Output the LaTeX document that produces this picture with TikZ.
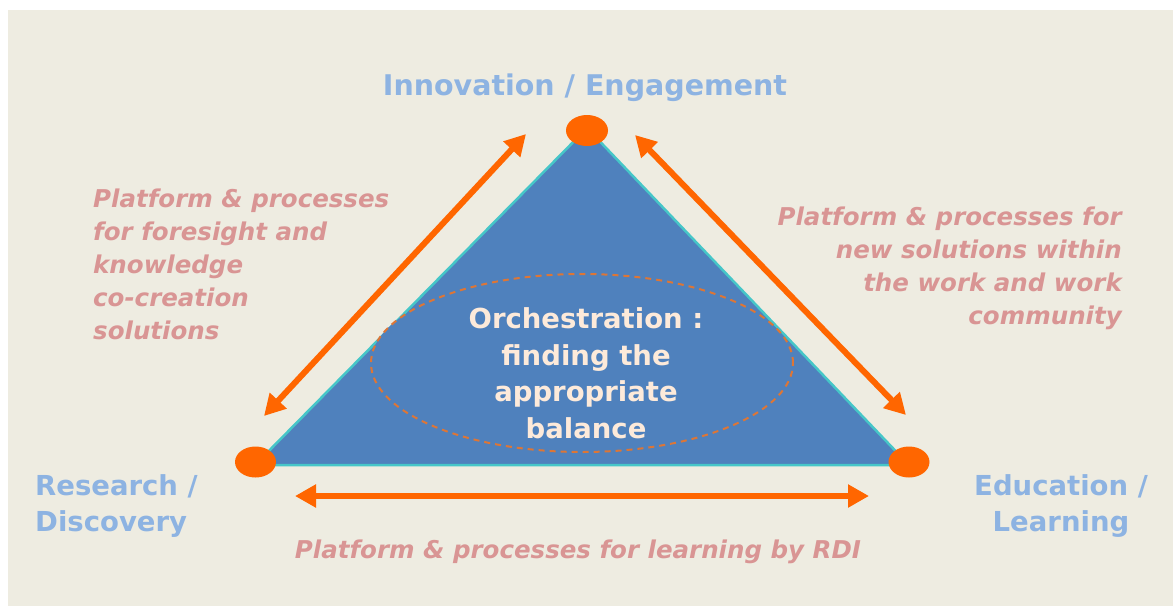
\documentclass[tikz,border=0pt]{standalone}
\usepackage{fontspec}
\setmainfont{DejaVu Sans}
\usetikzlibrary{arrows.meta,shapes.geometric}
\definecolor{bgc}{HTML}{EEECE1}
\definecolor{triblue}{HTML}{4F81BD}
\definecolor{edgecyan}{HTML}{46C6C8}
\definecolor{orng}{HTML}{FF6600}
\definecolor{lblblue}{HTML}{8DB3E2}
\definecolor{pinktxt}{HTML}{D99594}
\definecolor{creamtxt}{HTML}{FDEADA}
\definecolor{dashorng}{HTML}{DD7636}
\tikzset{
  dot/.style={ellipse, fill=orng, draw=none, inner sep=0pt},
  twoway/.style={draw=orng, line width=6pt, {Triangle[length=21pt,width=22pt]}-{Triangle[length=21pt,width=22pt]}},
  corner/.style={text=lblblue, font=\bfseries\fontsize{27.5}{36}\selectfont, inner sep=0pt},
  side/.style={text=pinktxt, font=\bfseries\itshape\fontsize{24.5}{33}\selectfont, inner sep=0pt},
  core/.style={text=creamtxt, font=\bfseries\fontsize{27.5}{36.5}\selectfont, inner sep=0pt, align=center}
}
\begin{document}
\begin{tikzpicture}[x=1pt,y=-1pt]
\useasboundingbox (0,0) rectangle (1173,606);
\fill[bgc] (8,10) rectangle (1173,606);
% triangle
\coordinate (A) at (587,128);
\coordinate (B) at (255,465);
\coordinate (C) at (909,465);
\fill[triblue] (A) -- (B) -- (C) -- cycle;
\draw[edgecyan, line width=2.5pt, line join=round] (A) -- (B) -- (C) -- cycle;
% ellipse
\node[ellipse, fill=triblue, draw=dashorng, dash pattern=on 6pt off 5pt, line width=2pt, minimum width=422pt, minimum height=178pt, inner sep=0pt] (orch) at (582,363) {};
% dots
\node[dot, minimum width=42pt, minimum height=31pt] (dtop) at (587,130.5) {};
\node[dot, minimum width=41pt, minimum height=31pt] (dleft) at (255.5,462) {};
\node[dot, minimum width=41pt, minimum height=31pt] (dright) at (909,462) {};
% arrows
\coordinate (l1) at (264,416);
\coordinate (l2) at (526,134);
\coordinate (r1) at (635,135);
\coordinate (r2) at (906,415);
\coordinate (b1) at (295,496);
\coordinate (b2) at (869,496);
\draw[twoway] (l1) -- (l2);
\draw[twoway] (r1) -- (r2);
\draw[twoway] (b1) -- (b2);
% texts (base anchor = baseline of last line)
\node[corner, font=\bfseries\fontsize{28.5}{36}\selectfont, anchor=base] (innov) at (585,95) {Innovation / Engagement};
\node[corner, anchor=base west, align=left] (research) at (35,531) {Research /\\Discovery};
\node[corner, anchor=base, align=center] (educ) at (1061,531) {Education /\\Learning};
\node[core, anchor=base] (orchtxt) at (586,438) {Orchestration :\\finding the\\appropriate\\balance};
\node[side, anchor=base west, align=left] (lefttxt) at (93,339) {Platform \& processes\\for foresight and\\knowledge\\co-creation\\solutions};
\node[side, anchor=base east, align=right] (righttxt) at (1122,324) {Platform \& processes for\\new solutions within\\the work and work\\community};
\node[side, anchor=base] (bottxt) at (578,558) {Platform \& processes for learning by RDI};
\end{tikzpicture}
\end{document}
